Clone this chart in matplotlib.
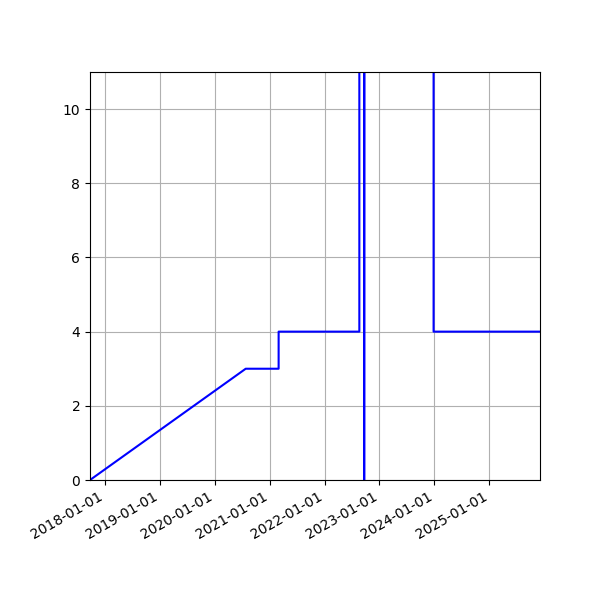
import matplotlib
matplotlib.use("Agg")
import matplotlib.pyplot as plt
import matplotlib.dates as mdates
import numpy as np

# step-like series
DATES = [
    "2017-09-23",
    "2020-07-25",
    "2021-03-01",
    "2021-03-01",
    "2022-08-20",
    "2022-08-20",
    "2022-09-21",
    "2022-09-21",
    "2022-09-24",
    "2023-12-27",
    "2023-12-27",
    "2025-12-04",
]
VALUES = [0, 3, 3, 4, 4, 40, 40, -5, 40, 40, 4, 4]

x = np.array(DATES, dtype="datetime64[D]")

fig = plt.figure(figsize=(6, 6), dpi=100)
ax = fig.add_axes([0.15, 0.2, 0.75, 0.68])
ax.plot(x, VALUES, color="blue")
ax.set_xlim(x[0], x[-1])
ax.set_ylim(0, 11)
ax.xaxis.set_major_locator(mdates.YearLocator())
ax.xaxis.set_major_formatter(mdates.DateFormatter("%Y-%m-%d"))
ax.grid(True)
for lbl in ax.get_xticklabels():
    lbl.set_rotation(30)
    lbl.set_ha("right")

fig.savefig("out.png", dpi=100)
